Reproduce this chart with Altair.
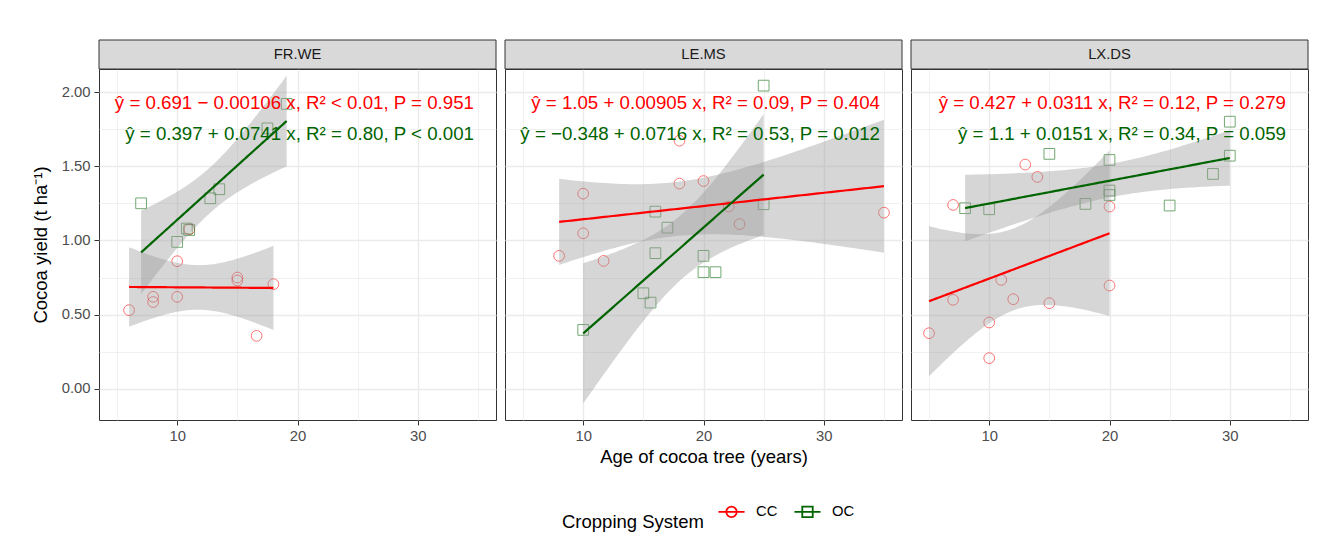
import altair as alt
import numpy as np
import pandas as pd

# ---------------- data ----------------
PANELS = ["FR.WE", "LE.MS", "LX.DS"]
SYSTEMS = ["CC", "OC"]

FRWE_CC_AGE = [6, 8, 8, 10, 10, 11, 15, 15, 16.6, 18]
FRWE_CC_YIELD = [0.53, 0.62, 0.585, 0.86, 0.62, 1.075, 0.75, 0.73, 0.357, 0.705]
FRWE_OC_AGE = [7, 10, 10.8, 11, 12.75, 13.5, 17.5, 19.1]
FRWE_OC_YIELD = [1.25, 0.99, 1.08, 1.07, 1.284, 1.345, 1.755, 1.92]

LEMS_CC_AGE = [8, 10, 10, 11.7, 18, 18, 20, 22.1, 23, 35]
LEMS_CC_YIELD = [0.896, 1.315, 1.048, 0.862, 1.672, 1.383, 1.40, 1.228, 1.11, 1.187]
LEMS_OC_AGE = [10, 15, 15.6, 16, 16, 17, 20, 20, 21, 25, 25]
LEMS_OC_YIELD = [0.397, 0.644, 0.581, 1.194, 0.914, 1.086, 0.896, 0.786, 0.786, 1.244, 2.043]

LXDS_CC_AGE = [5, 7, 7, 10, 10, 11, 12, 13, 14, 15, 20, 20]
LXDS_CC_YIELD = [0.375, 0.60, 1.239, 0.447, 0.207, 0.734, 0.604, 1.511, 1.428, 0.577, 1.228, 0.696]
LXDS_OC_AGE = [8, 10, 15, 18, 20, 20, 20, 25, 28.6, 30, 30]
LXDS_OC_YIELD = [1.217, 1.21, 1.583, 1.246, 1.542, 1.336, 1.306, 1.235, 1.448, 1.571, 1.80]

EQ_CC = [
    "ŷ = 0.691 − 0.00106 x,  R² < 0.01,  P = 0.951",
    "ŷ = 1.05 + 0.00905 x,  R² = 0.09,  P = 0.404",
    "ŷ = 0.427 + 0.0311 x,  R² = 0.12,  P = 0.279",
]
EQ_OC = [
    "ŷ = 0.397 + 0.0741 x,  R² = 0.80,  P < 0.001",
    "ŷ = −0.348 + 0.0716 x,  R² = 0.53,  P = 0.012",
    "ŷ = 1.1 + 0.0151 x,  R² = 0.34,  P = 0.059",
]

X_TITLE = "Age of cocoa tree (years)"
Y_TITLE = "Cocoa yield  (t ha⁻¹)"
LEGEND_TITLE = "Cropping System"

# two-sided 95% t quantiles by degrees of freedom
T_975 = {5: 2.571, 6: 2.447, 7: 2.365, 8: 2.306, 9: 2.262, 10: 2.228, 11: 2.201, 12: 2.179}

GROUPS = {
    ("FR.WE", "CC"): (FRWE_CC_AGE, FRWE_CC_YIELD),
    ("FR.WE", "OC"): (FRWE_OC_AGE, FRWE_OC_YIELD),
    ("LE.MS", "CC"): (LEMS_CC_AGE, LEMS_CC_YIELD),
    ("LE.MS", "OC"): (LEMS_OC_AGE, LEMS_OC_YIELD),
    ("LX.DS", "CC"): (LXDS_CC_AGE, LXDS_CC_YIELD),
    ("LX.DS", "OC"): (LXDS_OC_AGE, LXDS_OC_YIELD),
}

# ---------------- derived tables ----------------
def lm_band(x, y, n_grid=80):
    x = np.asarray(x, float)
    y = np.asarray(y, float)
    n = len(x)
    b1, b0 = np.polyfit(x, y, 1)
    resid = y - (b0 + b1 * x)
    s = np.sqrt(np.sum(resid ** 2) / (n - 2))
    xbar = x.mean()
    sxx = np.sum((x - xbar) ** 2)
    g = np.linspace(x.min(), x.max(), n_grid)
    fit = b0 + b1 * g
    se = s * np.sqrt(1.0 / n + (g - xbar) ** 2 / sxx)
    t = T_975[n - 2]
    return g, fit, fit - t * se, fit + t * se

pts_rows, fit_rows = [], []
for (panel, system), (ax, ay) in GROUPS.items():
    for a, v in zip(ax, ay):
        pts_rows.append({"panel": panel, "system": system, "age": a, "yield": v})
    g, fit, lo, hi = lm_band(ax, ay)
    for gi, fi, li, hi_ in zip(g, fit, lo, hi):
        fit_rows.append({"panel": panel, "system": system, "age": gi, "fit": fi, "lo": li, "hi": hi_})
pts = pd.DataFrame(pts_rows)
fits = pd.DataFrame(fit_rows)

# ---------------- styling ----------------
FONT = "Liberation Sans"
W, H, STRIP = 397, 351, 29
XDOM = [3.5, 36.5]
YDOM = [-0.21, 2.155]
COLORS = ["#FF0000", "#006400"]
GRID = "#EBEBEB"

CC_PATH = "M-0.9,0L0.9,0M0.36,0A0.36,0.36,0,1,1,-0.36,0A0.36,0.36,0,1,1,0.36,0"
OC_PATH = "M-0.9,0L0.9,0M-0.36,-0.36L0.36,-0.36L0.36,0.36L-0.36,0.36Z"

color_scale = alt.Scale(domain=SYSTEMS, range=COLORS)
shape_scale = alt.Scale(domain=SYSTEMS, range=[CC_PATH, OC_PATH])

MAIN_LEGEND = alt.Legend(
    title=LEGEND_TITLE, orient="none", legendX=463, legendY=427, direction="horizontal",
    titleOrient="left", titleBaseline="line-top", titleLineHeight=29,
    titleFontSize=18.5, titleFontWeight="normal", titleFont=FONT, titleColor="#000000",
    titlePadding=12,
    labelFontSize=14.8, labelFont=FONT, labelColor="#000000", labelOffset=9, columnPadding=12,
    symbolSize=841, symbolOpacity=1, symbolStrokeWidth=1.8, symbolFillColor="transparent",
)

def x_axis(title):
    return alt.Axis(
        values=[5, 10, 15, 20, 25, 30, 35],
        labelExpr="datum.value % 10 === 0 ? datum.label : ''",
        gridWidth={"condition": {"test": "datum.value % 10 === 0", "value": 1.4}, "value": 0.7},
        tickOpacity={"condition": {"test": "datum.value % 10 === 0", "value": 1}, "value": 0},
        domain=False, tickSize=5, labelPadding=3, titlePadding=5, title=title,
    )

def y_axis(first):
    base = dict(
        values=[0, 0.25, 0.5, 0.75, 1, 1.25, 1.5, 1.75, 2],
        gridWidth={"condition": {"test": "datum.value % 0.5 === 0", "value": 1.4}, "value": 0.7},
        domain=False, minExtent=0,
    )
    if first:
        return alt.Axis(
            title=Y_TITLE, format=".2f",
            labelExpr="datum.value % 0.5 === 0 ? datum.label : ''",
            tickOpacity={"condition": {"test": "datum.value % 0.5 === 0", "value": 1}, "value": 0},
            tickSize=5, labelPadding=4, titlePadding=11, **base,
        )
    return alt.Axis(title=None, labels=False, ticks=False, **base)

def panel_chart(i, panel):
    X = lambda f: alt.X(f, type="quantitative",
                        scale=alt.Scale(domain=XDOM, nice=False, zero=False),
                        axis=x_axis(X_TITLE if i == 1 else None))
    Y = lambda f: alt.Y(f, type="quantitative",
                        scale=alt.Scale(domain=YDOM, nice=False, zero=False),
                        axis=y_axis(i == 0))
    p = pts[pts.panel == panel]
    f = fits[fits.panel == panel]

    pt_cc = alt.Chart(p[p.system == "CC"]).mark_point(
        shape="circle", size=115, strokeWidth=1, opacity=0.55, filled=False, color=COLORS[0]
    ).encode(x=X("age"), y=Y("yield"))
    pt_oc = alt.Chart(p[p.system == "OC"]).mark_point(
        shape="square", size=115, strokeWidth=1, opacity=0.55, filled=False, color=COLORS[1]
    ).encode(x=X("age"), y=Y("yield"))
    ribbon = alt.Chart(f).mark_area(color="#999999", opacity=0.4).encode(
        x=X("age"), y=Y("lo"), y2="hi", detail="system:N",
    )
    line_cc = alt.Chart(f[f.system == "CC"]).mark_line(strokeWidth=2.2, color=COLORS[0]).encode(
        x=X("age"), y=Y("fit"))
    line_oc = alt.Chart(f[f.system == "OC"]).mark_line(strokeWidth=2.2, color=COLORS[1]).encode(
        x=X("age"), y=Y("fit"))

    eq = pd.DataFrame({"panel": [panel, panel], "system": SYSTEMS,
                       "label": [EQ_CC[i], EQ_OC[i]]})
    eq_cc = alt.Chart(eq[eq.system == "CC"]).mark_text(
        align="right", baseline="middle", fontSize=18.7, font=FONT, color=COLORS[0]
    ).encode(text="label:N", x=alt.value(W - 22), y=alt.value(34))
    eq_oc = alt.Chart(eq[eq.system == "OC"]).mark_text(
        align="right", baseline="middle", fontSize=18.7, font=FONT, color=COLORS[1]
    ).encode(text="label:N", x=alt.value(W - 22), y=alt.value(65))

    strip_df = pd.DataFrame({"panel": [panel]})
    strip_rect = alt.Chart(strip_df).mark_rect(
        fill="#D9D9D9", stroke="#333333", strokeWidth=1
    ).encode(x=alt.value(0), x2=alt.value(W), y=alt.value(-STRIP), y2=alt.value(0))
    strip_text = alt.Chart(strip_df).mark_text(
        fontSize=14.8, font=FONT, color="#1A1A1A", baseline="middle"
    ).encode(text="panel:N", x=alt.value(W / 2), y=alt.value(-STRIP / 2))

    layers = [pt_cc, pt_oc, ribbon, line_cc, line_oc, eq_cc, eq_oc, strip_rect, strip_text]
    if i == 0:
        # invisible layer (opacity 0) that only carries the legend
        leg_main = alt.Chart(p).mark_point(filled=False, opacity=0, strokeWidth=1.8).encode(
            x=X("age"), y=Y("yield"),
            color=alt.Color("system:N", scale=color_scale, legend=MAIN_LEGEND),
            shape=alt.Shape("system:N", scale=shape_scale, legend=MAIN_LEGEND),
        )
        layers.append(leg_main)
    return alt.layer(*layers).properties(width=W, height=H)

chart = alt.hconcat(*[panel_chart(i, p) for i, p in enumerate(PANELS)], spacing=7).properties(
    padding={"left": 22, "top": 31, "right": 10, "bottom": 10},
    background="white",
).configure_view(
    stroke="#333333", strokeWidth=1
).configure_axis(
    labelFont=FONT, labelFontSize=14.8, labelColor="#4D4D4D",
    titleFont=FONT, titleFontSize=18.5, titleFontWeight="normal", titleColor="#000000",
    tickColor="#333333", tickWidth=1, gridColor=GRID,
)

chart.save("out.html", embed_options={"renderer": "svg", "actions": False})
